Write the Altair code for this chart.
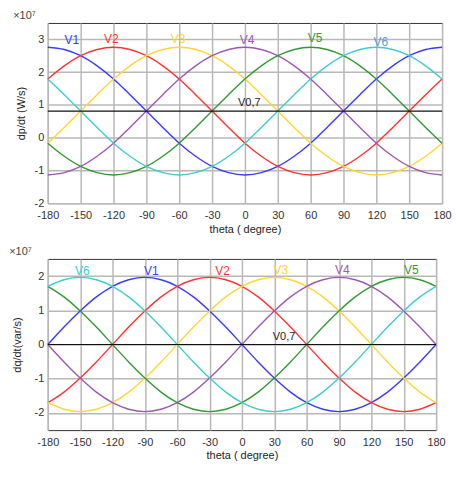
import altair as alt
import pandas as pd

theta = [-180, -165, -150, -135, -120, -105, -90, -75, -60, -45, -30, -15, 0,
         15, 30, 45, 60, 75, 90, 105, 120, 135, 150, 165, 180]

# top panel: dp/dt (x1e7 W/s)
p_V1 = [2.76, 2.69, 2.50, 2.19, 1.79, 1.31, 0.81, 0.31, -0.17, -0.57, -0.88, -1.07, -1.14,
        -1.07, -0.88, -0.57, -0.17, 0.31, 0.81, 1.31, 1.79, 2.19, 2.50, 2.69, 2.76]
p_V2 = [1.79, 2.19, 2.50, 2.69, 2.76, 2.69, 2.50, 2.19, 1.79, 1.31, 0.81, 0.31, -0.17,
        -0.57, -0.88, -1.07, -1.14, -1.07, -0.88, -0.57, -0.17, 0.31, 0.81, 1.31, 1.79]
p_V3 = [-0.17, 0.31, 0.81, 1.31, 1.79, 2.19, 2.50, 2.69, 2.76, 2.69, 2.50, 2.19, 1.79,
        1.31, 0.81, 0.31, -0.17, -0.57, -0.88, -1.07, -1.14, -1.07, -0.88, -0.57, -0.17]
p_V4 = [-1.14, -1.07, -0.88, -0.57, -0.17, 0.31, 0.81, 1.31, 1.79, 2.19, 2.50, 2.69, 2.76,
        2.69, 2.50, 2.19, 1.79, 1.31, 0.81, 0.31, -0.17, -0.57, -0.88, -1.07, -1.14]
p_V5 = [-0.17, -0.57, -0.88, -1.07, -1.14, -1.07, -0.88, -0.57, -0.17, 0.31, 0.81, 1.31, 1.79,
        2.19, 2.50, 2.69, 2.76, 2.69, 2.50, 2.19, 1.79, 1.31, 0.81, 0.31, -0.17]
p_V6 = [1.79, 1.31, 0.81, 0.31, -0.17, -0.57, -0.88, -1.07, -1.14, -1.07, -0.88, -0.57, -0.17,
        0.31, 0.81, 1.31, 1.79, 2.19, 2.50, 2.69, 2.76, 2.69, 2.50, 2.19, 1.79]
p_V07 = 0.81

# bottom panel: dq/dt (x1e7 var/s)
q_V1 = [0, 0.51, 0.98, 1.39, 1.70, 1.89, 1.96, 1.89, 1.70, 1.39, 0.98, 0.51, 0,
        -0.51, -0.98, -1.39, -1.70, -1.89, -1.96, -1.89, -1.70, -1.39, -0.98, -0.51, 0]
q_V2 = [-1.70, -1.39, -0.98, -0.51, 0, 0.51, 0.98, 1.39, 1.70, 1.89, 1.96, 1.89, 1.70,
        1.39, 0.98, 0.51, 0, -0.51, -0.98, -1.39, -1.70, -1.89, -1.96, -1.89, -1.70]
q_V3 = [-1.70, -1.89, -1.96, -1.89, -1.70, -1.39, -0.98, -0.51, 0, 0.51, 0.98, 1.39, 1.70,
        1.89, 1.96, 1.89, 1.70, 1.39, 0.98, 0.51, 0, -0.51, -0.98, -1.39, -1.70]
q_V4 = [0, -0.51, -0.98, -1.39, -1.70, -1.89, -1.96, -1.89, -1.70, -1.39, -0.98, -0.51, 0,
        0.51, 0.98, 1.39, 1.70, 1.89, 1.96, 1.89, 1.70, 1.39, 0.98, 0.51, 0]
q_V5 = [1.70, 1.39, 0.98, 0.51, 0, -0.51, -0.98, -1.39, -1.70, -1.89, -1.96, -1.89, -1.70,
        -1.39, -0.98, -0.51, 0, 0.51, 0.98, 1.39, 1.70, 1.89, 1.96, 1.89, 1.70]
q_V6 = [1.70, 1.89, 1.96, 1.89, 1.70, 1.39, 0.98, 0.51, 0, -0.51, -0.98, -1.39, -1.70,
        -1.89, -1.96, -1.89, -1.70, -1.39, -0.98, -0.51, 0, 0.51, 0.98, 1.39, 1.70]
q_V07 = 0.0

series = ["V1", "V2", "V3", "V4", "V5", "V6"]
colors = ["#3a3aff", "#ff3333", "#ffd633", "#9b59b0", "#339933", "#40cccc"]

# label positions (theta, value), order V1..V6
p_lab_x = [-158, -122, -61, 2, 64, 124]
p_lab_y = [2.98, 3.0, 3.02, 2.98, 3.05, 2.93]
p_lab_col = ["#3a3aff", "#ff3333", "#ffd633", "#9b59b0", "#339933", "#5b9bd5"]
q_lab_x = [-84, -18, 36, 93, 157, -148]
q_lab_y = [2.16, 2.16, 2.18, 2.18, 2.18, 2.16]
q_lab_col = colors

xticks = [-180, -150, -120, -90, -60, -30, 0, 30, 60, 90, 120, 150, 180]
FONT = "Liberation Sans"


def make_df(vals):
    rows = []
    for s, v in zip(series, vals):
        for t, y in zip(theta, v):
            rows.append({"theta": t, "val": y, "s": s})
    return pd.DataFrame(rows)


def panel(vals, v07, v07_lab, labx, laby, labcol, ydom, yticks, ytitle, w, h, ytp):
    df = make_df(vals)
    xaxis = alt.Axis(values=xticks, title="theta ( degree)", grid=True,
                     gridColor="#b8b8b8", gridWidth=1.5, labelFontSize=11,
                     labelColor="#333", titleFontSize=11, titleFontWeight="normal",
                     titleColor="#222", ticks=False, labelPadding=6, titlePadding=3,
                     domain=False, labelFont=FONT, titleFont=FONT,
                     labelFlush=False, labelOverlap=False,
                     labelExpr="'' + datum.value")
    yaxis = alt.Axis(values=yticks, title=ytitle, grid=True, gridColor="#b8b8b8",
                     gridWidth=1.5, labelFontSize=11, labelColor="#333",
                     titleFontSize=11, titleFontWeight="normal", titleColor="#222",
                     ticks=False, labelPadding=4, titlePadding=ytp, domain=False,
                     labelFont=FONT, titleFont=FONT, labelFlush=False,
                     labelOverlap=False, labelExpr="'' + datum.value")
    xs = alt.Scale(domain=[-180, 180], nice=False)
    ys = alt.Scale(domain=ydom, nice=False, zero=False)
    X = lambda f: alt.X(f, scale=xs, axis=xaxis)
    Y = lambda f: alt.Y(f, scale=ys, axis=yaxis)
    lines = alt.Chart(df).mark_line(interpolate="monotone", strokeWidth=1.4).encode(
        x=X("theta:Q"), y=Y("val:Q"),
        color=alt.Color("s:N", scale=alt.Scale(domain=series, range=colors), legend=None),
        detail="s:N")
    rule = alt.Chart(pd.DataFrame({"v": [v07]})).mark_rule(color="#111", strokeWidth=1.2).encode(
        y=Y("v:Q"))
    labdf = pd.DataFrame({"t": series, "x": labx, "y": laby, "c": labcol})
    labs = alt.Chart(labdf).mark_text(fontSize=12, font=FONT).encode(
        x=X("x:Q"), y=Y("y:Q"), text="t:N", color=alt.Color("c:N", scale=None))
    v07df = pd.DataFrame({"t": ["V0,7"], "x": [v07_lab[0]], "y": [v07_lab[1]]})
    v07t = alt.Chart(v07df).mark_text(fontSize=11, font=FONT, color="#222").encode(
        x=X("x:Q"), y=Y("y:Q"), text="t:N")
    return alt.layer(lines, rule, labs, v07t).properties(
        width=w, height=h,
        title=alt.TitleParams("×10⁷", anchor="start", fontSize=11, fontWeight="normal",
                              color="#444", font=FONT, offset=2, dx=-2))


top = panel([p_V1, p_V2, p_V3, p_V4, p_V5, p_V6], p_V07, (4, 1.05),
            p_lab_x, p_lab_y, p_lab_col, [-2, 3.5], [-2, -1, 0, 1, 2, 3],
            "dp/dt (W/s)", 396, 181, 8)
bot = panel([q_V1, q_V2, q_V3, q_V4, q_V5, q_V6], q_V07, (39, 0.22),
            q_lab_x, q_lab_y, q_lab_col, [-2.5, 2.5], [-2, -1, 0, 1, 2],
            "dq/dt(var/s)", 390, 172, 12)

chart = alt.vconcat(top, bot, spacing=10).configure(padding=0).configure_view(
    stroke="#333", strokeWidth=1).configure_concat(spacing=10)

chart.save("out.html", embed_options={"renderer": "svg", "actions": False})
